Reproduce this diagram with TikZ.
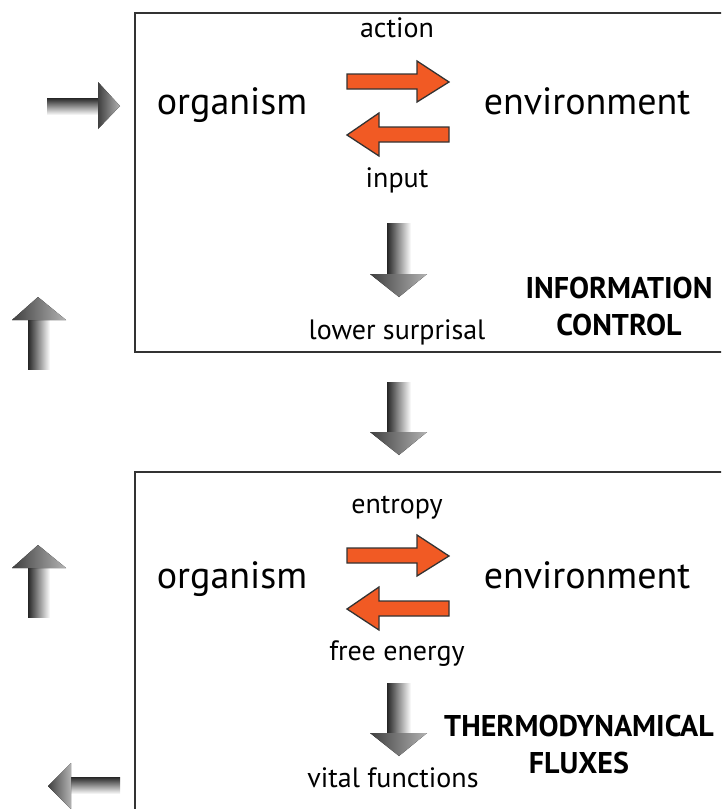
\documentclass[tikz,border=0pt]{standalone}
\usepackage{fontspec}
\setmainfont{PT Sans}
\definecolor{flux}{HTML}{F15A24}
\begin{document}
\begin{tikzpicture}[x=1pt,y=-1pt,
  frame/.style={draw=black!80,line width=1.6pt},
  fluxarrow/.style={fill=flux,draw=black!80,line width=1.3pt,line join=miter},
  big/.style={font=\fontsize{38}{44}\selectfont,anchor=base},
  small/.style={font=\fontsize{28}{32}\selectfont,anchor=base},
  label/.style={font=\fontsize{30}{37}\selectfont\bfseries,align=center,anchor=base},
  vshaft/.style={left color=black!85,right color=white},
  hshaft/.style={top color=black!85,bottom color=white},
  headshade/.style={left color=black!75,right color=black!30}]
\useasboundingbox (0,0) rectangle (721,809);
\clip (0,0) rectangle (721,809);

% frames
\draw[frame] (135,13) rectangle (740,352);
\draw[frame] (135,472) rectangle (740,840);

% ---------- information control ----------
\node[small] (act) at (397,37) {action};
\node[big] (org1) at (232,114) {organism};
\node[big] (env1) at (587,114) {environment};
\node[small] (inp) at (397,187) {input};
\node[small] (sur) at (397,339) {lower surprisal};
\node[label] (info) at (619,335) {INFORMATION\\CONTROL};

\draw[fluxarrow] (347,74) -- (417,74) -- (417,61) -- (449,82) -- (417,102) -- (417,89) -- (347,89) -- cycle;
\draw[fluxarrow] (449,127) -- (379,127) -- (379,113) -- (347,135) -- (379,156) -- (379,142) -- (449,142) -- cycle;

% down arrow inside the upper frame
\fill[vshaft] (387,223) rectangle (411,275);
\fill[headshade] (370,274) -- (427,274) -- (399,297) -- cycle;

% ---------- link between the frames ----------
\fill[vshaft] (387,382) rectangle (411,433);
\fill[headshade] (370,432) -- (427,432) -- (399,455) -- cycle;

% ---------- thermodynamical fluxes ----------
\node[small] (ent) at (397,513) {entropy};
\node[big] (org2) at (232,588) {organism};
\node[big] (env2) at (587,588) {environment};
\node[small] (fe) at (397,660) {free energy};
\node[small] (vit) at (393,787) {vital functions};
\node[label] (thermo) at (579,773) {THERMODYNAMICAL\\FLUXES};

\draw[fluxarrow] (347,548) -- (417,548) -- (417,535) -- (449,556) -- (417,576) -- (417,563) -- (347,563) -- cycle;
\draw[fluxarrow] (449,601) -- (379,601) -- (379,587) -- (347,609) -- (379,630) -- (379,616) -- (449,616) -- cycle;

\fill[vshaft] (387,683) rectangle (411,734);
\fill[headshade] (370,733) -- (427,733) -- (399,756) -- cycle;

% ---------- outer loop arrows ----------
% entering arrow, upper left
\fill[hshaft] (47,98) rectangle (99,115);
\fill[headshade] (98,82) -- (120,106) -- (98,129) -- cycle;
% upward arrow, upper left
\fill[vshaft] (28,319) rectangle (50,369);
\fill[headshade] (12,320) -- (38,297) -- (66,320) -- cycle;
% upward arrow, lower left
\fill[vshaft] (28,567) rectangle (50,617);
\fill[headshade] (12,568) -- (38,545) -- (66,568) -- cycle;
% leaving arrow, lower left
\fill[hshaft] (70,777) rectangle (120,794);
\fill[headshade] (71,763) -- (48,786) -- (71,809) -- cycle;
\end{tikzpicture}
\end{document}
